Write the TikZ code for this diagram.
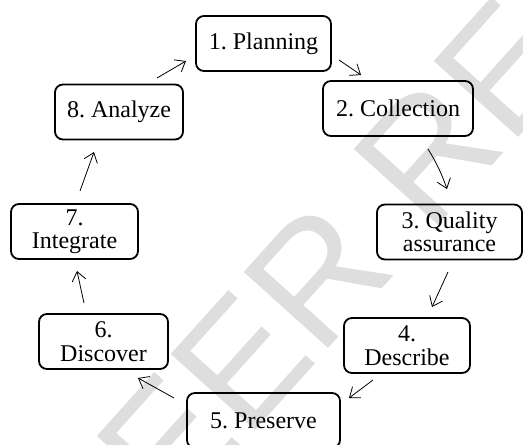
\documentclass[tikz,border=0pt]{standalone}
\usepackage{fontspec}
\setmainfont{Liberation Serif}
\newfontfamily\wmfont{Liberation Sans}
\usetikzlibrary{arrows.meta}
\tikzset{
  stepbox/.style={draw=black, line width=1.8pt, rounded corners=8pt, align=center,
    font=\fontsize{24}{23.5}\selectfont\frenchspacing, inner sep=0pt, minimum height=55pt},
  arr/.style={line width=0.8pt, -{Straight Barb[length=9pt,width=14pt]}},
  watermark/.style={text=black!13, font=\wmfont\fontsize{165}{165}\selectfont, rotate=48}
}
\begin{document}
\begin{tikzpicture}[x=1pt,y=-1pt]
\useasboundingbox (0,0) rectangle (523,445);
\fill[white] (0,0) rectangle (523,445);
\node[watermark] (wm) at (440,140) {PEER REVIEW};
% nodes
\node[stepbox, minimum width=135pt] (n1) at (263.5,43.5) {1. Planning};
\node[stepbox, minimum width=150pt] (n2) at (398,108.5) {2. Collection};
\node[stepbox, minimum width=145pt] (n3) at (449.5,232) {3. Quality\\assurance};
\node[stepbox, minimum width=126pt] (n4) at (407,345.5) {4.\\Describe};
\node[stepbox, minimum width=153pt] (n5) at (263.5,420.5) {5. Preserve};
\node[stepbox, minimum width=129pt] (n6) at (103.5,341.5) {6.\\Discover};
\node[stepbox, minimum width=127pt] (n7) at (74.5,231.5) {7.\\Integrate};
\node[stepbox, minimum width=128pt] (n8) at (119,112) {8. Analyze};
% connector ends
\coordinate (s81) at (157,78);  \coordinate (e81) at (186,61);
\coordinate (s12) at (339,60);  \coordinate (e12) at (361,75);
\coordinate (s23) at (428,149); \coordinate (e23) at (447,189);
\coordinate (s34) at (448,272); \coordinate (e34) at (432,307);
\coordinate (s45) at (373,380); \coordinate (e45) at (349,398);
\coordinate (s56) at (174,398); \coordinate (e56) at (138,378);
\coordinate (s67) at (84,303);  \coordinate (e67) at (77,271);
\coordinate (s78) at (80,191);  \coordinate (e78) at (94,152);
\draw[arr] (s81) -- (e81);
\draw[arr] (s12) -- (e12);
\draw[arr] (s23) to[bend left=6] (e23);
\draw[arr] (s34) -- (e34);
\draw[arr] (s45) -- (e45);
\draw[arr] (s56) -- (e56);
\draw[arr] (s67) -- (e67);
\draw[arr] (s78) -- (e78);
\end{tikzpicture}
\end{document}
